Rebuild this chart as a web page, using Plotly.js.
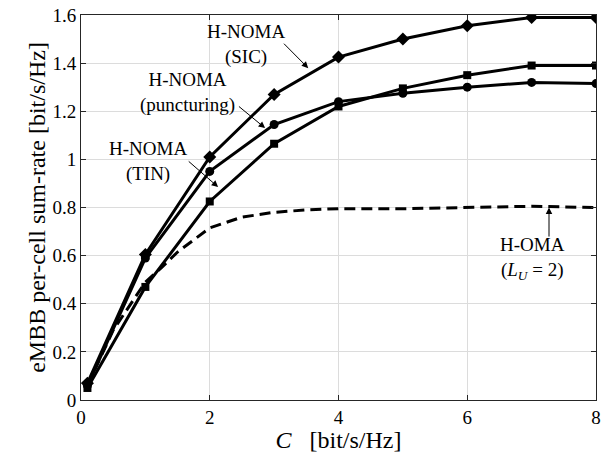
<!DOCTYPE html>
<html>
<head>
<meta charset="utf-8">
<script src="https://cdn.plot.ly/plotly-3.0.1.min.js"></script>
<style>html,body{margin:0;padding:0;background:#fff;}#chart{width:613px;height:453px;}</style>
</head>
<body>
<div id="chart"></div>
<script>
const xPts = [0.1, 1, 2, 3, 4, 5, 6, 7, 8];
const sicRate = [0.07, 0.605, 1.01, 1.27, 1.425, 1.50, 1.555, 1.59, 1.59];
const puncRate = [0.06, 0.59, 0.95, 1.145, 1.24, 1.275, 1.30, 1.32, 1.315];
const tinRate = [0.05, 0.47, 0.825, 1.065, 1.22, 1.295, 1.35, 1.39, 1.39];
const omaX = [0.1, 0.5, 1, 1.25, 1.5, 2, 2.5, 3, 3.5, 4, 5, 6, 7, 8];
const omaRate = [0.06, 0.29, 0.49, 0.55, 0.615, 0.715, 0.76, 0.78, 0.79, 0.795, 0.795, 0.80, 0.805, 0.80];
const xTicks = [0, 2, 4, 6, 8];
const yTicks = [0, 0.2, 0.4, 0.6, 0.8, 1, 1.2, 1.4, 1.6];
const yTickText = ['0', '0.2', '0.4', '0.6', '0.8', '1', '1.2', '1.4', '1.6'];

const FONT = 'Liberation Serif, DejaVu Serif, serif';
const lineStyle = {color: '#000', width: 3};

const traces = [
  {x: xPts, y: sicRate, mode: 'lines+markers', line: lineStyle,
   marker: {symbol: 'diamond', size: 10, color: '#000'}, name: 'SIC'},
  {x: xPts, y: puncRate, mode: 'lines+markers', line: lineStyle,
   marker: {symbol: 'circle', size: 9, color: '#000'}, name: 'puncturing'},
  {x: xPts, y: tinRate, mode: 'lines+markers', line: lineStyle,
   marker: {symbol: 'square', size: 8, color: '#000'}, name: 'TIN'},
  {x: omaX, y: omaRate, mode: 'lines', line: {color: '#000', width: 3, dash: '11px,6px'}, name: 'H-OMA'}
];

function arrow(hx, hy, tx, ty) {
  return {x: hx, y: hy, ax: tx, ay: ty, axref: 'x', ayref: 'y', xref: 'x', yref: 'y',
    text: '', showarrow: true, arrowhead: 2, arrowsize: 1.3, arrowwidth: 1, arrowcolor: '#000', standoff: 0, startstandoff: 0};
}
function label(x, y, txt) {
  return {x: x, y: y, xref: 'x', yref: 'y', text: txt, showarrow: false,
    font: {family: FONT, size: 19, color: '#000'}, align: 'center'};
}

const layout = {
  width: 613, height: 453,
  margin: {l: 81, r: 17, t: 15, b: 53},
  paper_bgcolor: '#fff', plot_bgcolor: '#fff',
  showlegend: false,
  font: {family: FONT, size: 19, color: '#000'},
  xaxis: {
    range: [0, 8], tickvals: xTicks, ticktext: xTicks.map(String),
    showgrid: true, gridcolor: '#dcdcdc', gridwidth: 1,
    showline: true, linecolor: '#262626', linewidth: 1, mirror: 'ticks',
    ticks: 'inside', ticklen: 5, tickcolor: '#262626', zeroline: false,
    tickfont: {family: FONT, size: 19, color: '#000'},
    title: {text: '<i>C</i>   [bit/s/Hz]', font: {family: FONT, size: 24, color: '#000'}, standoff: 3}
  },
  yaxis: {
    range: [0, 1.6], tickvals: yTicks, ticktext: yTickText,
    showgrid: true, gridcolor: '#dcdcdc', gridwidth: 1,
    showline: true, linecolor: '#262626', linewidth: 1, mirror: 'ticks',
    ticks: 'inside', ticklen: 5, tickcolor: '#262626', zeroline: false,
    tickfont: {family: FONT, size: 19, color: '#000'},
    title: {text: 'eMBB per-cell sum-rate [bit/s/Hz]', font: {family: FONT, size: 24, color: '#000'}, standoff: 0}
  },
  annotations: [
    label(2.57, 1.478, 'H-NOMA<br>(SIC)'),
    label(1.65, 1.277, 'H-NOMA<br>(puncturing)'),
    label(1.04, 0.993, 'H-NOMA<br>(TIN)'),
    label(7.02, 0.586, 'H-OMA<br>(<i>L</i><sub><i>U</i></sub> = 2)'),
    arrow(3.53, 1.379, 3.13, 1.487),
    arrow(2.86, 1.13, 2.43, 1.225),
    arrow(2.13, 0.885, 1.65, 0.997),
    arrow(7.27, 0.80, 7.27, 0.673)
  ]
};

Plotly.newPlot('chart', traces, layout, {displayModeBar: false, staticPlot: true});
</script>
</body>
</html>
